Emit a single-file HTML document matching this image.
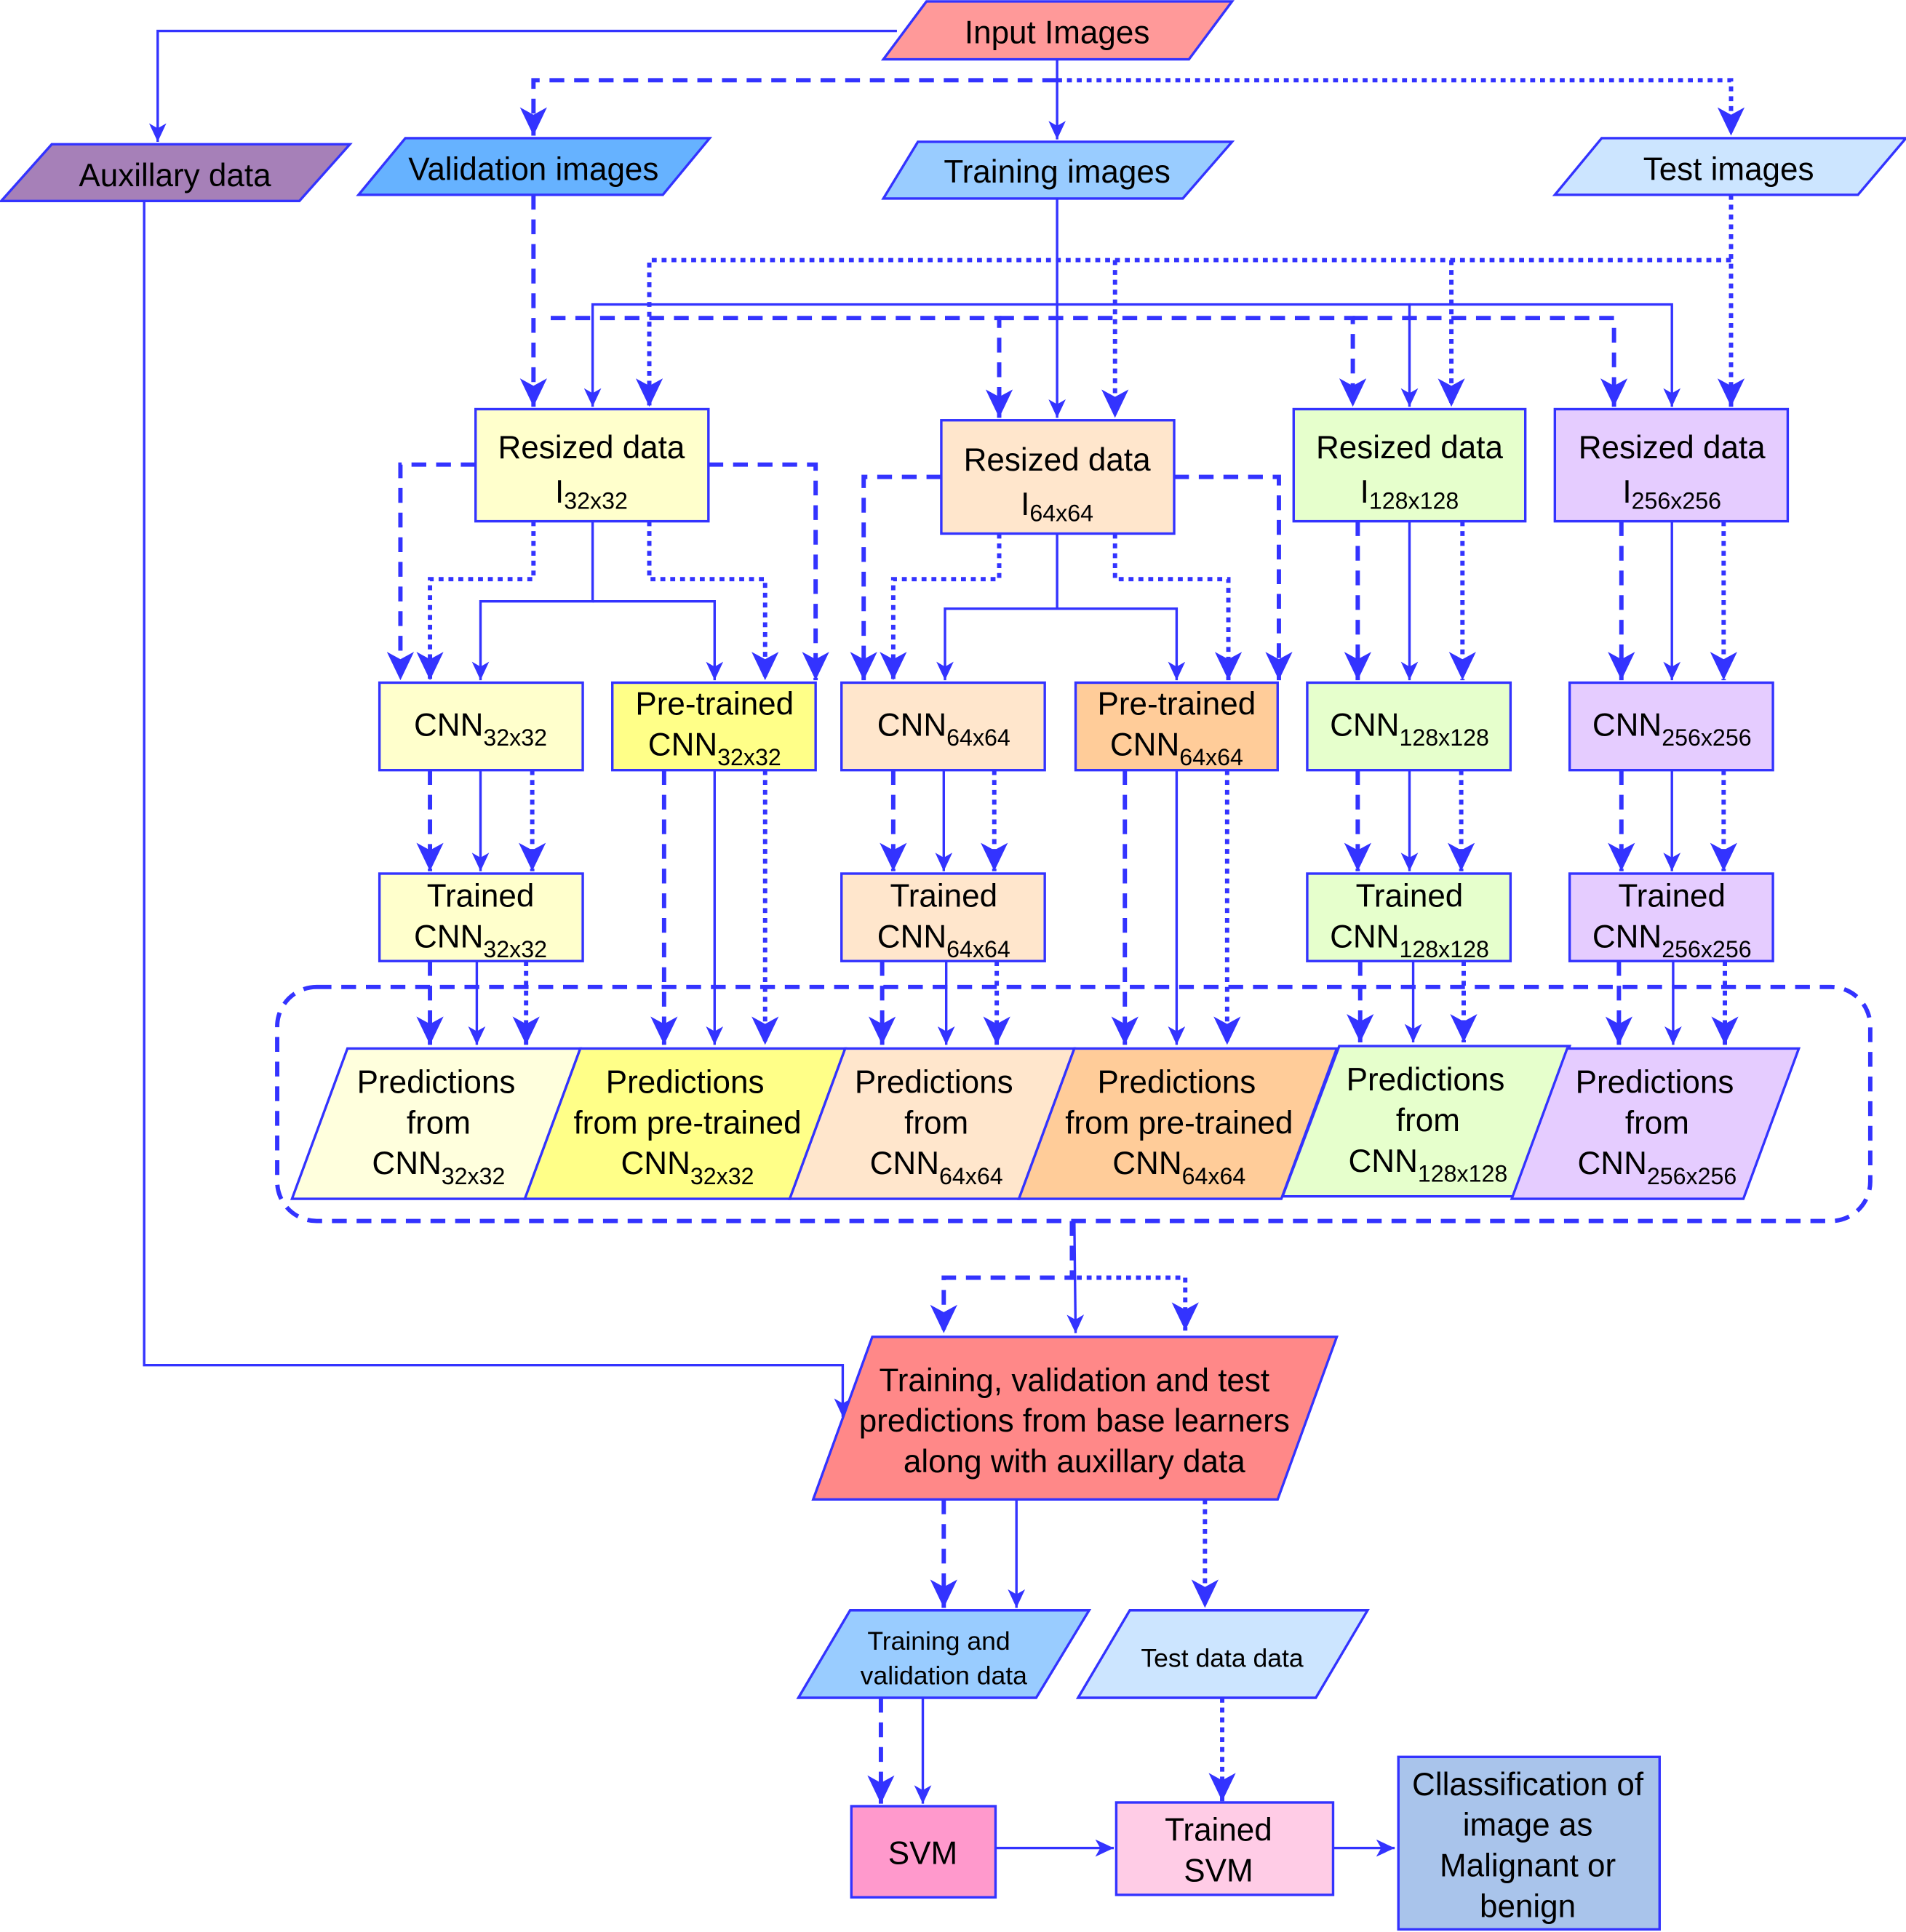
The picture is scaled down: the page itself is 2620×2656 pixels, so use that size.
<!DOCTYPE html>
<html><head><meta charset="utf-8"><style>
html,body{margin:0;padding:0;background:#fff;}
svg{display:block;}
text{font-family:"Liberation Sans",Arial,sans-serif;fill:#000;}
</style></head><body>
<svg width="2620" height="2656" viewBox="0 0 1547 1568" xmlns="http://www.w3.org/2000/svg">
<defs>
<marker id="s" markerUnits="userSpaceOnUse" markerWidth="16" markerHeight="14" refX="15" refY="7" orient="auto"><path d="M0,0 L15,7 L0,14 L4,7 Z" fill="#3333ff"/></marker>
<marker id="b" markerUnits="userSpaceOnUse" markerWidth="24" markerHeight="22" refX="23" refY="11" orient="auto"><path d="M0,0 L23,11 L0,22 L6,11 Z" fill="#3333ff"/></marker>
</defs>
<g fill="none" stroke="#3333ff">
<!-- solid connectors -->
<g stroke-width="2" marker-end="url(#s)">
<path d="M728,25 H128 V115"/>
<path d="M858,48 V113"/>
<path d="M117,163 V1108 H684 V1150"/>
<path d="M858,161 V339"/>
<path d="M858,247 H481 V330"/>
<path d="M858,247 H1144 V330"/>
<path d="M1144,247 H1357 V330"/>
<path d="M481,423 V488 H390 V552"/>
<path d="M481,488 H580 V552"/>
<path d="M858,433 V494 H767 V552"/>
<path d="M858,494 H955 V552"/>
<path d="M1144,423 V552"/>
<path d="M1357,423 V552"/>
<path d="M390,625 V707"/>
<path d="M766,625 V707"/>
<path d="M1144,625 V707"/>
<path d="M1357,625 V707"/>
<path d="M387,780 V848"/>
<path d="M580,625 V848"/>
<path d="M768,780 V848"/>
<path d="M955,625 V848"/>
<path d="M1147,780 V846"/>
<path d="M1358,780 V848"/>
<path d="M872,991 L873,1082"/>
<path d="M825,1217 V1305"/>
<path d="M749,1378 V1464"/>
<path d="M808,1500 H904"/>
<path d="M1082,1500 H1132"/>
</g>
<!-- dashed -->
<g stroke-width="3.5" stroke-dasharray="12 8" marker-end="url(#b)">
<path d="M858,65 H433 V110"/>
<path d="M433,158 V330"/>
<path d="M447,258 H811 V339"/>
<path d="M811,258 H1098 V330"/>
<path d="M1098,258 H1310 V330"/>
<path d="M386,377 H325 V552"/>
<path d="M575,377 H662 V552"/>
<path d="M764,387 H701 V552"/>
<path d="M953,387 H1038 V552"/>
<path d="M1102,423 V552"/>
<path d="M1316,423 V552"/>
<path d="M349,625 V707"/>
<path d="M725,625 V707"/>
<path d="M1102,625 V707"/>
<path d="M1316,625 V707"/>
<path d="M349,780 V848"/>
<path d="M539,625 V848"/>
<path d="M716,780 V848"/>
<path d="M913,625 V848"/>
<path d="M1104,780 V846"/>
<path d="M1314,780 V848"/>
<path d="M870,991 V1037 H766 V1082"/>
<path d="M766,1217 V1305"/>
<path d="M715,1378 V1464"/>
</g>
<!-- dotted -->
<g stroke-width="3.5" stroke-dasharray="4 4" marker-end="url(#b)">
<path d="M858,65 H1405 V110"/>
<path d="M1405,158 V330"/>
<path d="M1405,211 H527 V330"/>
<path d="M905,211 V339"/>
<path d="M1178,211 V330"/>
<path d="M433,423 V470 H349 V552"/>
<path d="M527,423 V470 H621 V552"/>
<path d="M811,433 V470 H725 V552"/>
<path d="M905,433 V470 H997 V552"/>
<path d="M1187,423 V552"/>
<path d="M1399,423 V552"/>
<path d="M432,625 V707"/>
<path d="M807,625 V707"/>
<path d="M1186,625 V707"/>
<path d="M1399,625 V707"/>
<path d="M427,780 V848"/>
<path d="M621,625 V848"/>
<path d="M809,780 V848"/>
<path d="M996,625 V848"/>
<path d="M1188,780 V846"/>
<path d="M1400,780 V848"/>
<path d="M874,1037 H962 V1080"/>
<path d="M978,1217 V1305"/>
<path d="M992,1378 V1462"/>
</g>
<rect x="225" y="801" width="1293" height="190" rx="32" stroke-width="3.5" stroke-dasharray="12 8"/>
</g>

<g stroke="#3333ff" stroke-width="2">
<polygon points="717,48 752,1 1000,1 965,48" fill="#ff9999"/>
<polygon points="1,163 42,117 284,117 243,163" fill="#a680b8"/>
<polygon points="291,158 329,112 576,112 538,158" fill="#66b2ff"/>
<polygon points="717,161 745,115 1000,115 960,161" fill="#99ccff"/>
<polygon points="1262,158 1300,112 1547,112 1508,158" fill="#cce5ff"/>
<rect x="386" y="332" width="189" height="91" fill="#ffffcc"/>
<rect x="764" y="341" width="189" height="92" fill="#ffe6cc"/>
<rect x="1050" y="332" width="188" height="91" fill="#e6ffcc"/>
<rect x="1262" y="332" width="189" height="91" fill="#e5ccff"/>
<rect x="308" y="554" width="165" height="71" fill="#ffffcc"/>
<rect x="497" y="554" width="165" height="71" fill="#ffff88"/>
<rect x="683" y="554" width="165" height="71" fill="#ffe6cc"/>
<rect x="873" y="554" width="164" height="71" fill="#ffcc99"/>
<rect x="1061" y="554" width="165" height="71" fill="#e6ffcc"/>
<rect x="1274" y="554" width="165" height="71" fill="#e5ccff"/>
<rect x="308" y="709" width="165" height="71" fill="#ffffcc"/>
<rect x="683" y="709" width="165" height="71" fill="#ffe6cc"/>
<rect x="1061" y="709" width="165" height="71" fill="#e6ffcc"/>
<rect x="1274" y="709" width="165" height="71" fill="#e5ccff"/>
<polygon points="237,973 282,851 471,851 426,973" fill="#ffffdd"/>
<polygon points="426,973 471,851 686,851 641,973" fill="#ffff88"/>
<polygon points="641,973 686,851 872,851 827,973" fill="#ffe6cc"/>
<polygon points="827,973 872,851 1085,851 1040,973" fill="#ffcc99"/>
<polygon points="1041,971 1087,849 1274,849 1229,971" fill="#e6ffcc"/>
<polygon points="1227,973 1272,851 1460,851 1415,973" fill="#e5ccff"/>
<polygon points="660,1217 708,1085 1085,1085 1037,1217" fill="#f88"/>
<polygon points="648,1378 690,1307 884,1307 841,1378" fill="#99ccff"/>
<polygon points="875,1378 917,1307 1110,1307 1068,1378" fill="#cce5ff"/>
<rect x="691" y="1466" width="117" height="74" fill="#ff99cc"/>
<rect x="906" y="1463" width="176" height="75" fill="#ffcce6"/>
<rect x="1135" y="1426" width="212" height="140" fill="#a9c4eb"/>
</g>

<g font-size="26" text-anchor="middle">
<text x="858" y="35">Input Images</text>
<text x="142" y="151">Auxillary data</text>
<text x="433" y="146">Validation images</text>
<text x="858" y="148">Training images</text>
<text x="1403" y="146">Test images</text>

<text x="480" y="372">Resized data</text>
<text x="480" y="408">I<tspan font-size="19" dy="5">32x32</tspan></text>
<text x="858" y="382">Resized data</text>
<text x="858" y="418">I<tspan font-size="19" dy="5">64x64</tspan></text>
<text x="1144" y="372">Resized data</text>
<text x="1144" y="408">I<tspan font-size="19" dy="5">128x128</tspan></text>
<text x="1357" y="372">Resized data</text>
<text x="1357" y="408">I<tspan font-size="19" dy="5">256x256</tspan></text>

<text x="390" y="597">CNN<tspan font-size="19" dy="8">32x32</tspan></text>
<text x="580" y="580">Pre-trained</text>
<text x="580" y="613">CNN<tspan font-size="19" dy="8">32x32</tspan></text>
<text x="766" y="597">CNN<tspan font-size="19" dy="8">64x64</tspan></text>
<text x="955" y="580">Pre-trained</text>
<text x="955" y="613">CNN<tspan font-size="19" dy="8">64x64</tspan></text>
<text x="1144" y="597">CNN<tspan font-size="19" dy="8">128x128</tspan></text>
<text x="1357" y="597">CNN<tspan font-size="19" dy="8">256x256</tspan></text>

<text x="390" y="736">Trained</text>
<text x="390" y="769">CNN<tspan font-size="19" dy="8">32x32</tspan></text>
<text x="766" y="736">Trained</text>
<text x="766" y="769">CNN<tspan font-size="19" dy="8">64x64</tspan></text>
<text x="1144" y="736">Trained</text>
<text x="1144" y="769">CNN<tspan font-size="19" dy="8">128x128</tspan></text>
<text x="1357" y="736">Trained</text>
<text x="1357" y="769">CNN<tspan font-size="19" dy="8">256x256</tspan></text>

<text x="354" y="887">Predictions</text>
<text x="356" y="920">from</text>
<text x="356" y="953">CNN<tspan font-size="19" dy="8">32x32</tspan></text>
<text x="556" y="887">Predictions</text>
<text x="558" y="920">from pre-trained</text>
<text x="558" y="953">CNN<tspan font-size="19" dy="8">32x32</tspan></text>
<text x="758" y="887">Predictions</text>
<text x="760" y="920">from</text>
<text x="760" y="953">CNN<tspan font-size="19" dy="8">64x64</tspan></text>
<text x="955" y="887">Predictions</text>
<text x="957" y="920">from pre-trained</text>
<text x="957" y="953">CNN<tspan font-size="19" dy="8">64x64</tspan></text>
<text x="1157" y="885">Predictions</text>
<text x="1159" y="918">from</text>
<text x="1159" y="951">CNN<tspan font-size="19" dy="8">128x128</tspan></text>
<text x="1343" y="887">Predictions</text>
<text x="1345" y="920">from</text>
<text x="1345" y="953">CNN<tspan font-size="19" dy="8">256x256</tspan></text>

<text x="872" y="1129">Training, validation and test</text>
<text x="872" y="1162">predictions from base learners</text>
<text x="872" y="1195">along with auxillary data</text>

<text x="749" y="1513">SVM</text>
<text x="989" y="1494">Trained</text>
<text x="989" y="1527">SVM</text>
<text x="1240" y="1457">Cllassification of</text>
<text x="1240" y="1490">image as</text>
<text x="1240" y="1523">Malignant or</text>
<text x="1240" y="1556">benign</text>
</g>
<g font-size="21" text-anchor="middle">
<text x="762" y="1339">Training and</text>
<text x="766" y="1367">validation data</text>
<text x="992" y="1353">Test data data</text>
</g>
</svg>
</body></html>
